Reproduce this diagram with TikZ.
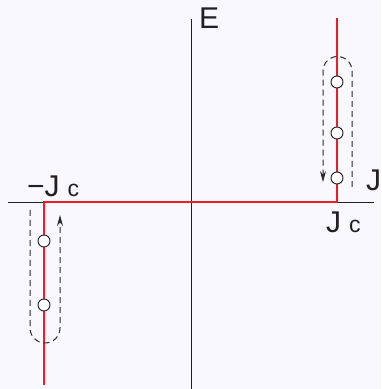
\documentclass[tikz,border=0pt]{standalone}
\usepackage{fontspec}
\setmainfont{Liberation Sans}
\usepackage{tikz}
\usetikzlibrary{positioning, arrows.meta, calc}
\definecolor{bgc}{HTML}{F8F8FE}
\definecolor{curve}{HTML}{EE1C25}
\definecolor{axc}{HTML}{231F20}
\definecolor{dashc}{HTML}{2A2A2A}
\tikzset{
  axis/.style={draw=axc, line width=0.9pt},
  branch/.style={draw=curve, line width=2.8pt},
  dot/.style={circle, draw=axc, fill=white, line width=0.9pt, inner sep=0pt,
              minimum size=12pt},
  loopy/.style={draw=dashc, dashed, dash pattern=on 6pt off 4pt, line width=1pt,
                -{Stealth[length=11pt, width=6pt]}},
  lbl/.style={inner sep=0pt, anchor=base west, text=axc,
              font=\fontsize{30}{34}\selectfont},
}

\begin{document}
\begin{tikzpicture}[x=1pt, y=1pt]
  \fill[bgc] (0,0) rectangle (381,389);
  \useasboundingbox (0,0) rectangle (381,389);

  % axes
  \coordinate (xl) at (8,187);
  \coordinate (xr) at (374,187);
  \coordinate (yb) at (191,0);
  \coordinate (yt) at (191,370);
  \draw[axis] (xl) -- (xr);
  \draw[axis] (yb) -- (yt);

  % E(J) characteristic
  \coordinate (top) at (337,371);
  \coordinate (jc) at (337,187);
  \coordinate (mjc) at (44,187);
  \coordinate (bot) at (44,4);
  \draw[branch, line join=miter] (top) -- (jc) -- (mjc) -- (bot);

  \node[dot] (r1) at (337,307) {};
  \node[dot] (r2) at (337,256) {};
  \node[dot] (r3) at (337,211) {};
  \node[dot] (l1) at (44,148) {};
  \node[dot] (l2) at (44,84) {};

  % sweep loops
  \draw[loopy] (352,202) -- (352,318) arc (0:180:14.5) -- (323,207);
  \draw[loopy] (30,179) -- (30,61) arc (180:360:15) -- (60,174);

  \node[lbl] (E) at (199,360) {E};
  \node[lbl] (J) at (366,198) {J};
  \node[lbl] (Jc) at (326,156) {J\hspace{8pt}{\fontsize{23}{24}\selectfont c}};
  \node[lbl] (mJc) at (27,192) {\textminus J\hspace{8pt}{\fontsize{23}{24}\selectfont c}};
\end{tikzpicture}
\end{document}
